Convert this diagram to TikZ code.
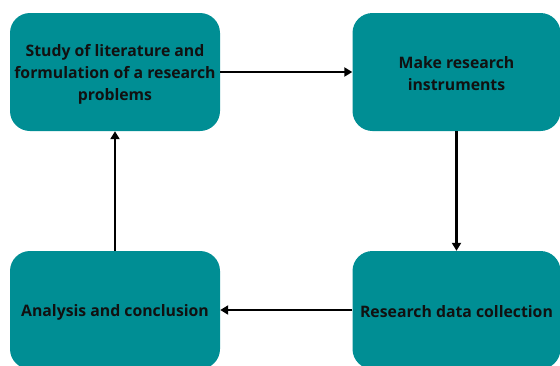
\documentclass[tikz,border=0pt]{standalone}
\usepackage{fontspec}
\setmainfont{Open Sans}
\usetikzlibrary{arrows.meta}
\definecolor{teal1}{HTML}{008E94}
\definecolor{txt}{HTML}{111111}
\begin{document}
\begin{tikzpicture}[x=1pt,y=-1pt,
  box/.style={fill=teal1, rounded corners=20pt, inner sep=0pt},
  lbl/.style={text=txt, font=\bfseries\fontsize{15.8}{22}\selectfont, align=center},
  conn/.style={line width=2.4pt, -{Triangle[length=8pt,width=9pt]}}]
\useasboundingbox (0,0) rectangle (560,365);
\begin{scope}
\clip (0,0) rectangle (560,365);
\node[box, minimum width=210pt, minimum height=118pt] (b1) at (115,72) {};
\node[box, minimum width=208pt, minimum height=118pt] (b2) at (456.5,72) {};
\node[box, minimum width=208pt, minimum height=118pt] (b3) at (456.5,310) {};
\node[box, minimum width=210pt, minimum height=118pt] (b4) at (115,310) {};
\end{scope}
\node[lbl] (t1) at ([yshift=-2pt]b1) {Study of literature and\\formulation of a research\\problems};
\node[lbl] (t2) at ([yshift=-2pt]b2) {Make research\\instruments};
\node[lbl] (t3) at ([yshift=-2pt]b3) {Research data collection};
\node[lbl] (t4) at ([yshift=-2pt]b4) {Analysis and conclusion};
\draw[conn] (b1.east) -- (b2.west);
\draw[conn] (b2.south) -- (b3.north);
\draw[conn] (b3.west) -- (b4.east);
\draw[conn] (b4.north) -- (b1.south);
\end{tikzpicture}
\end{document}
